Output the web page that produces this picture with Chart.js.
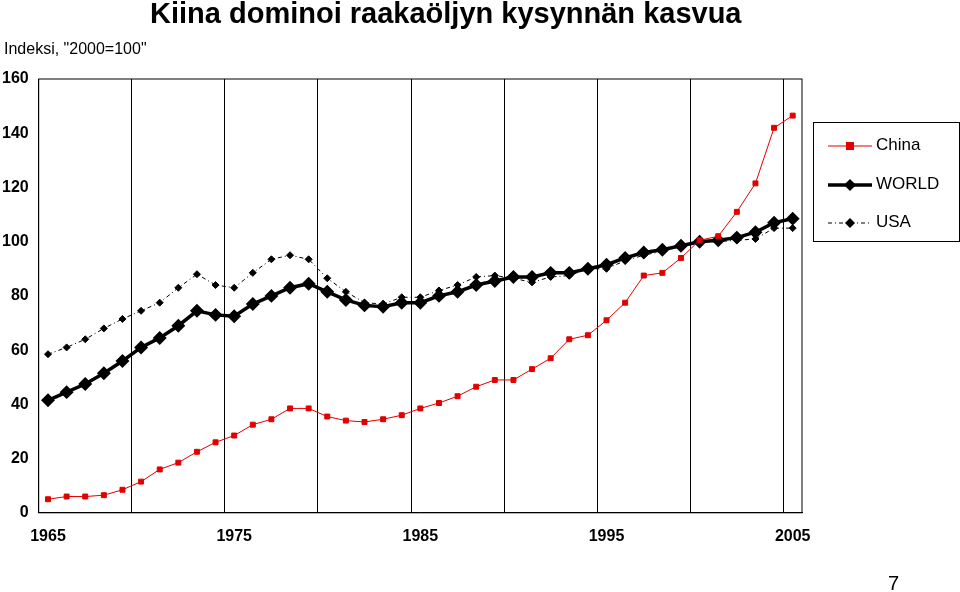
<!DOCTYPE html>
<html>
<head>
<meta charset="utf-8">
<script src="https://cdn.jsdelivr.net/npm/chart.js@4/dist/chart.umd.min.js"></script>
<style>
  body { margin: 0; background: #fff; font-family: "Liberation Sans", Arial, sans-serif; }
  #wrap { position: relative; width: 960px; height: 592px; }
  #chart { position: absolute; left: 0; top: 0; }
  .txt { position: absolute; color: #000; white-space: nowrap; }
  #title { left: 150px; top: -3px; font-size: 29px; font-weight: bold; }
  #sub { left: 4px; top: 40px; font-size: 16px; }
  #page { left: 888px; top: 572px; font-size: 20px; }
  #legend { position: absolute; left: 813px; top: 122px; width: 147px; height: 120px; border: 1px solid #000; box-sizing: border-box; }
  .row { position: absolute; left: 14px; font-size: 17px; }
  .row svg { vertical-align: middle; margin-right: 4px; }
</style>
</head>
<body>
<div id="wrap">
  <canvas id="chart" width="960" height="592"></canvas>
  <div class="txt" id="title">Kiina dominoi raakaöljyn kysynnän kasvua</div>
  <div class="txt" id="sub">Indeksi, "2000=100"</div>
  <div class="txt" id="page">7</div>
  <div id="legend">
    <div class="row" style="top:12px"><svg width="44" height="12"><line x1="0" y1="6" x2="44" y2="6" stroke="#e00000" stroke-width="1"/><rect x="18" y="2" width="8" height="8" fill="#e00000"/></svg>China</div>
    <div class="row" style="top:51px"><svg width="44" height="12"><line x1="0" y1="6" x2="44" y2="6" stroke="#000" stroke-width="3.5"/><polygon points="22,0 28,6 22,12 16,6" fill="#000"/></svg>WORLD</div>
    <div class="row" style="top:89px"><svg width="44" height="12"><line x1="0" y1="6" x2="44" y2="6" stroke="#000" stroke-width="1" stroke-dasharray="4,3,1,3"/><polygon points="22,1 27,6 22,11 17,6" fill="#000"/></svg>USA</div>
  </div>
</div>
<script>
const years = [];
for (let y = 1965; y <= 2005; y++) years.push(String(y));

const china = [5, 6, 6, 6.5, 8.5, 11.5, 16, 18.5, 22.5, 26, 28.5, 32.5, 34.5, 38.5, 38.5, 35.5, 34, 33.5, 34.5, 36,
  38.5, 40.5, 43, 46.5, 49, 49, 53, 57, 64, 65.5, 71, 77.5, 87.5, 88.5, 94, 100.5, 102, 111, 121.5, 142, 146.5];
const world = [41.5, 44.5, 47.5, 51.5, 56, 61, 64.5, 69, 74.5, 73, 72.5, 77, 80, 83, 84.5, 81.5, 78.5, 76.5, 76, 77.5,
  77.5, 80, 81.5, 84, 85.5, 87, 87, 88.5, 88.5, 90, 91.5, 94, 96, 97, 98.5, 100, 100.5, 101.5, 103.5, 107, 108.5];
const usa = [58.5, 61, 64, 68, 71.5, 74.5, 77.5, 83, 88, 84, 83, 88.5, 93.5, 95, 93.5, 86.5, 81.5, 77.5, 77, 79.5,
  79.5, 82, 84, 87, 87.5, 86.5, 85, 87, 87.5, 90, 90, 93, 95, 96.5, 99, 100, 100, 100.5, 101, 105, 105];
const yTicks = [0, 20, 40, 60, 80, 100, 120, 140, 160];

const tickFont = { family: "Liberation Sans", size: 16, weight: "bold" };

new Chart(document.getElementById("chart"), {
  type: "line",
  data: {
    labels: years,
    datasets: [
      { label: "China", data: china, borderColor: "#e00000", backgroundColor: "#e00000", borderWidth: 1,
        pointStyle: "rect", pointRadius: 3.5, tension: 0 },
      { label: "WORLD", data: world, borderColor: "#000", backgroundColor: "#000", borderWidth: 3.5,
        pointStyle: "rectRot", pointRadius: 4.5, tension: 0 },
      { label: "USA", data: usa, borderColor: "#000", backgroundColor: "#000", borderWidth: 1,
        borderDash: [4, 3, 1, 3], pointStyle: "rectRot", pointRadius: 3.5, tension: 0 }
    ]
  },
  options: {
    responsive: false,
    animation: false,
    layout: { padding: { top: 79, right: 158, bottom: 32, left: 0 } },
    plugins: { legend: { display: false }, tooltip: { enabled: false } },
    scales: {
      x: {
        offset: true,
        grid: {
          offset: true,
          color: ctx => (ctx.index % 5 === 0 && ctx.index > 0 ? "#000" : "rgba(0,0,0,0)"),
          drawTicks: false
        },
        border: { color: "#000" },
        ticks: {
          autoSkip: false, maxRotation: 0, color: "#000", font: tickFont, padding: 14,
          callback: (v, i) => (i % 10 === 0 ? years[i] : "")
        }
      },
      y: {
        min: 0, max: 160,
        afterBuildTicks: axis => { axis.ticks = yTicks.map(v => ({ value: v })); },
        grid: { display: false },
        border: { color: "#000" },
        ticks: { color: "#000", font: tickFont, padding: 2 }
      }
    }
  },
  plugins: [{
    id: "frame",
    afterDraw(chart) {
      const { ctx, chartArea: a } = chart;
      ctx.save();
      ctx.strokeStyle = "#000";
      ctx.lineWidth = 1;
      ctx.strokeRect(a.left, a.top, a.right - a.left, a.bottom - a.top);
      ctx.restore();
    }
  }]
});
</script>
</body>
</html>
